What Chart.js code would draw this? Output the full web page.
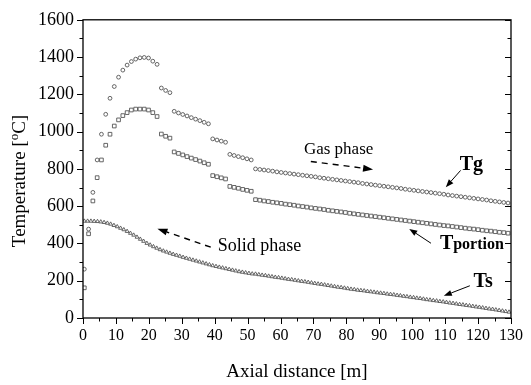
<!DOCTYPE html>
<html>
<head>
<meta charset="utf-8">
<script src="https://cdn.jsdelivr.net/npm/chart.js@4.4.0/dist/chart.umd.min.js"></script>
<style>
  html, body { margin: 0; padding: 0; background: #fff; }
  canvas { display: block; }
</style>
</head>
<body>
<canvas id="temp-graph" width="531" height="385"></canvas>
<script>
// axial positions of the gas / portion markers [m]
const distGas = [
  0.4, 1.7, 3.0, 4.3, 5.6, 6.9, 8.2, 9.5, 10.8, 12.1,
  13.4, 14.7, 16.0, 17.3, 18.6, 19.9, 21.2, 22.5, 23.8, 25.1,
  26.4, 27.7, 29.0, 30.3, 31.6, 32.9, 34.2, 35.5, 36.8, 38.1,
  39.4, 40.7, 42.0, 43.3, 44.6, 45.9, 47.2, 48.5, 49.8, 51.1,
  52.4, 53.7, 55.0, 56.3, 57.6, 58.9, 60.2, 61.5, 62.8, 64.1,
  65.4, 66.7, 68.0, 69.3, 70.6, 71.9, 73.2, 74.5, 75.8, 77.1,
  78.4, 79.7, 81.0, 82.3, 83.6, 84.9, 86.2, 87.5, 88.8, 90.1,
  91.4, 92.7, 94.0, 95.3, 96.6, 97.9, 99.2, 100.5, 101.8, 103.1,
  104.4, 105.7, 107.0, 108.3, 109.6, 110.9, 112.2, 113.5, 114.8, 116.1,
  117.4, 118.7, 120.0, 121.3, 122.6, 123.9, 125.2, 126.5, 127.8, 129.1
]

// Tg [oC]
const gasTemp = [
  262, 477, 674, 848, 986, 1093, 1179, 1242, 1292, 1330,
  1357, 1376, 1389, 1396, 1398, 1395, 1378, 1361, 1234, 1221,
  1209, 1109, 1100, 1092, 1084, 1075, 1067, 1059, 1050, 1042,
  961, 955, 949, 943, 878, 872, 866, 860, 854, 848,
  800, 797, 794, 791, 788, 784, 781, 778, 775, 772,
  769, 766, 763, 760, 757, 753, 750, 747, 744, 741,
  738, 735, 732, 729, 726, 722, 719, 716, 713, 710,
  707, 704, 701, 698, 695, 691, 688, 685, 682, 679,
  676, 673, 670, 667, 664, 660, 657, 654, 651, 648,
  645, 642, 639, 636, 633, 629, 626, 623, 620, 617
]

// Tportion [oC]
const portionTemp = [
  162, 452, 628, 753, 848, 927, 986, 1030, 1063, 1086,
  1102, 1116, 1121, 1121, 1121, 1116, 1102, 1081, 987, 975,
  965, 891, 883, 875, 866, 858, 850, 842, 833, 825,
  764, 758, 752, 746, 706, 701, 696, 690, 685, 680,
  635, 632, 628, 625, 621, 618, 615, 611, 608, 605,
  601, 598, 595, 591, 588, 585, 582, 578, 575, 572,
  569, 566, 562, 559, 556, 553, 550, 547, 544, 541,
  538, 535, 532, 529, 526, 523, 520, 517, 514, 511,
  508, 505, 502, 499, 496, 494, 491, 488, 485, 482,
  479, 477, 474, 471, 468, 466, 463, 460, 458, 455
]

// axial positions of the solid markers [m]
const distSolid = [
  0.4, 1.4, 2.4, 3.4, 4.4, 5.4, 6.4, 7.4, 8.4, 9.4,
  10.4, 11.4, 12.4, 13.4, 14.4, 15.4, 16.4, 17.4, 18.4, 19.4,
  20.4, 21.4, 22.4, 23.4, 24.4, 25.4, 26.4, 27.4, 28.4, 29.4,
  30.4, 31.4, 32.4, 33.4, 34.4, 35.4, 36.4, 37.4, 38.4, 39.4,
  40.4, 41.4, 42.4, 43.4, 44.4, 45.4, 46.4, 47.4, 48.4, 49.4,
  50.4, 51.4, 52.4, 53.4, 54.4, 55.4, 56.4, 57.4, 58.4, 59.4,
  60.4, 61.4, 62.4, 63.4, 64.4, 65.4, 66.4, 67.4, 68.4, 69.4,
  70.4, 71.4, 72.4, 73.4, 74.4, 75.4, 76.4, 77.4, 78.4, 79.4,
  80.4, 81.4, 82.4, 83.4, 84.4, 85.4, 86.4, 87.4, 88.4, 89.4,
  90.4, 91.4, 92.4, 93.4, 94.4, 95.4, 96.4, 97.4, 98.4, 99.4,
  100.4, 101.4, 102.4, 103.4, 104.4, 105.4, 106.4, 107.4, 108.4, 109.4,
  110.4, 111.4, 112.4, 113.4, 114.4, 115.4, 116.4, 117.4, 118.4, 119.4,
  120.4, 121.4, 122.4, 123.4, 124.4, 125.4, 126.4, 127.4, 128.4, 129.4
]

// Ts [oC]
const solidTemp = [
  520, 520, 520, 519, 518, 516, 513, 509, 504, 497,
  490, 482, 474, 465, 455, 445, 434, 423, 412, 401,
  392, 383, 375, 367, 360, 354, 348, 342, 337, 332,
  326, 321, 316, 311, 306, 301, 296, 291, 286, 281,
  277, 273, 269, 265, 261, 257, 253, 249, 246, 243,
  240, 237, 236, 233, 230, 228, 225, 222, 219, 217,
  214, 211, 208, 206, 203, 200, 197, 195, 192, 189,
  186, 183, 181, 178, 175, 172, 169, 166, 164, 161,
  158, 155, 153, 150, 148, 146, 143, 141, 139, 136,
  134, 132, 129, 127, 125, 122, 120, 117, 115, 112,
  110, 107, 105, 102, 99, 97, 94, 92, 89, 87,
  84, 81, 79, 76, 73, 71, 68, 66, 63, 60,
  58, 55, 52, 49, 47, 44, 41, 38, 35, 32
]

const xTicks = [0, 10, 20, 30, 40, 50, 60, 70, 80, 90, 100, 110, 120, 130]
const yTicks = [0, 200, 400, 600, 800, 1000, 1200, 1400, 1600]

const SERIF = '"Liberation Serif", "Times New Roman", serif'
const INK = '#000'
const MARK = '#555'

const pairs = (xs, ys) => xs.map((x, i) => ({ x, y: ys[i] }))

// annotation arrows in data units
const arrows = [
  { from: [69.2, 840], to: [88.1, 797], dashed: true },
  { from: [38.8, 380], to: [22.6, 479], dashed: true },
  { from: [114.7, 792], to: [110.2, 702] },
  { from: [105.7, 401], to: [99.1, 478] },
  { from: [117.5, 173], to: [109.6, 119] }
]

function drawArrow (ctx, x1, y1, x2, y2, dashed) {
  const ang = Math.atan2(y2 - y1, x2 - x1)
  const head = dashed ? 10 : 8
  const hw = dashed ? 3.5 : 3
  const ex = x2 - Math.cos(ang) * head
  const ey = y2 - Math.sin(ang) * head
  ctx.save()
  ctx.strokeStyle = INK
  ctx.fillStyle = INK
  ctx.lineWidth = dashed ? 1.4 : 1
  if (dashed) ctx.setLineDash([6, 5])
  ctx.beginPath()
  ctx.moveTo(x1, y1)
  ctx.lineTo(ex, ey)
  ctx.stroke()
  ctx.setLineDash([])
  ctx.beginPath()
  ctx.moveTo(x2, y2)
  ctx.lineTo(ex - Math.sin(ang) * hw, ey + Math.cos(ang) * hw)
  ctx.lineTo(ex + Math.sin(ang) * hw, ey - Math.cos(ang) * hw)
  ctx.closePath()
  ctx.fill()
  ctx.restore()
}

const decorPlugin = {
  id: 'decor',
  afterDraw (chart) {
    const { ctx, chartArea: a } = chart
    const sx = chart.scales.x
    const sy = chart.scales.y
    const px = v => sx.getPixelForValue(v)
    const py = v => sy.getPixelForValue(v)
    ctx.save()

    // frame
    ctx.strokeStyle = INK
    ctx.lineWidth = 1.3
    ctx.strokeRect(a.left, a.top, a.right - a.left, a.bottom - a.top)

    // ticks: left + bottom outward, right inward, minors in between
    ctx.lineWidth = 1
    ctx.beginPath()
    for (let v = 0; v <= 1600; v += 100) {
      const y = Math.round(py(v)) + 0.5
      const len = v % 200 === 0 ? 6 : 3.5
      ctx.moveTo(a.left - len, y); ctx.lineTo(a.left, y)
      ctx.moveTo(a.right, y); ctx.lineTo(a.right - len, y)
    }
    for (let v = 0; v <= 130; v += 5) {
      const x = Math.round(px(v)) + 0.5
      const len = v % 10 === 0 ? 6 : 3.5
      ctx.moveTo(x, a.bottom); ctx.lineTo(x, a.bottom + len)
    }
    ctx.stroke()

    // axis titles
    ctx.fillStyle = INK
    ctx.textBaseline = 'alphabetic'
    ctx.font = '19px ' + SERIF
    ctx.textAlign = 'center'
    ctx.fillText('Axial distance [m]', (a.left + a.right) / 2, 377)

    ctx.save()
    ctx.translate(25, 181)
    ctx.rotate(-Math.PI / 2)
    const big = '19px ' + SERIF
    const small = '13px ' + SERIF
    ctx.font = big
    const w1 = ctx.measureText('Temperature [').width
    const w3 = ctx.measureText('C]').width
    ctx.font = small
    const w2 = ctx.measureText('o').width
    let cx = -(w1 + w2 + w3) / 2
    ctx.textAlign = 'left'
    ctx.font = big
    ctx.fillText('Temperature [', cx, 0)
    cx += w1
    ctx.font = small
    ctx.fillText('o', cx, -7)
    cx += w2
    ctx.font = big
    ctx.fillText('C]', cx, 0)
    ctx.restore()

    // phase notes
    ctx.textAlign = 'left'
    ctx.textBaseline = 'middle'
    ctx.font = '17px ' + SERIF
    ctx.fillText('Gas phase', px(67.1), py(903))
    ctx.font = '18px ' + SERIF
    ctx.fillText('Solid phase', px(40.9), py(385))

    // series labels
    ctx.textBaseline = 'alphabetic'
    ctx.font = 'bold 20px ' + SERIF
    ctx.fillText('Tg', px(114.4), py(795))
    ctx.fillText('T', px(108.4), py(370))
    const tw = ctx.measureText('T').width
    ctx.font = 'bold 16px ' + SERIF
    ctx.fillText('portion', px(108.4) + tw, py(370))
    ctx.font = 'bold 20px ' + SERIF
    ctx.fillText('Ts', px(118.6), py(169))

    arrows.forEach(r => drawArrow(ctx, px(r.from[0]), py(r.from[1]), px(r.to[0]), py(r.to[1]), r.dashed))
    ctx.restore()
  }
}

const ctx = document.getElementById('temp-graph').getContext('2d')
new Chart(ctx, {
  type: 'scatter',
  data: {
    datasets: [
      {
        label: 'Tg',
        data: pairs(distGas, gasTemp),
        pointStyle: 'circle',
        pointRadius: 1.9,
        borderWidth: 0.9,
        borderColor: MARK,
        backgroundColor: '#fff'
      },
      {
        label: 'Tportion',
        data: pairs(distGas, portionTemp),
        pointStyle: 'rect',
        pointRadius: 2.6,
        borderWidth: 0.9,
        borderColor: MARK,
        backgroundColor: '#fff'
      },
      {
        label: 'Ts',
        data: pairs(distSolid, solidTemp),
        pointStyle: 'triangle',
        pointRadius: 2.2,
        borderWidth: 0.9,
        borderColor: MARK,
        backgroundColor: '#fff'
      }
    ]
  },
  options: {
    responsive: false,
    animation: false,
    devicePixelRatio: 1,
    layout: { padding: { top: 15, right: 13, left: 0, bottom: 0 } },
    scales: {
      x: {
        type: 'linear',
        min: 0,
        max: 130,
        afterFit: s => { s.height = 67 },
        afterBuildTicks: s => { s.ticks = xTicks.map(value => ({ value })) },
        grid: { display: false, drawTicks: false },
        border: { display: false },
        ticks: {
          color: INK,
          padding: 8,
          maxRotation: 0,
          autoSkip: false,
          callback: v => String(v),
          font: { family: SERIF, size: 16 }
        }
      },
      y: {
        type: 'linear',
        min: 0,
        max: 1600,
        afterFit: s => { s.width = 83 },
        afterBuildTicks: s => { s.ticks = yTicks.map(value => ({ value })) },
        grid: { display: false, drawTicks: false },
        border: { display: false },
        ticks: {
          color: INK,
          padding: 9,
          autoSkip: false,
          callback: v => String(v),
          font: { family: SERIF, size: 18 }
        }
      }
    },
    plugins: {
      legend: { display: false },
      tooltip: { enabled: false }
    }
  },
  plugins: [decorPlugin]
})
</script>
</body>
</html>
